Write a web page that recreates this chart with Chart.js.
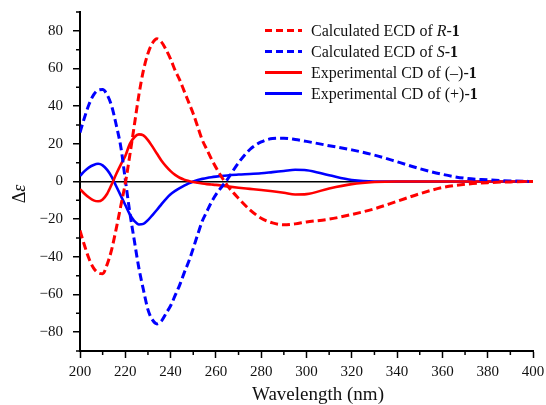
<!DOCTYPE html>
<html>
<head>
<meta charset="utf-8">
<script src="https://cdn.jsdelivr.net/npm/chart.js@4.4.1/dist/chart.umd.min.js"></script>
<style>
    body { margin: 0; background: #fff; }
    #wrap { position: relative; width: 546px; height: 405px; }
    #legend { position: absolute; left: 265px; top: 20px; font-family: 'Liberation Serif', 'Times New Roman', serif; font-size: 16px; color: #111; }
    #legend .row { height: 21px; display: flex; align-items: center; white-space: nowrap; }
    #legend .swatch { width: 37px; height: 3px; margin-right: 9px; }
</style>
</head>
<body>
<div id="wrap">
    <canvas id="cd" width="546" height="405"></canvas>
    <div id="legend"></div>
</div>
<script>
// wavelength (nm)
var wavelength = [200, 202, 204, 206, 208, 210, 212, 214, 216, 218, 220, 222, 224, 226, 228, 230,
    232, 234, 236, 238, 240, 242, 244, 246, 248, 250, 252, 254, 256, 258, 260,
    265, 270, 275, 280, 285, 290, 295, 300, 310, 320, 330, 340, 350, 360, 370, 380, 390, 400];

// calculated ECD of R-1
var calcR = [-26, -34, -41, -46, -48.5, -49, -44, -36, -25, -13, -1, 14, 30, 46, 59, 68,
    73.5, 75.8, 74, 70, 65, 59, 54, 48, 42, 36, 29, 22, 17, 12, 7.5,
    -2, -9, -15, -19.5, -22, -23, -22.5, -21.5, -20, -17.5, -14.5, -10.5, -6.5, -3.2, -1.5, -0.6, -0.2, 0];

// calculated ECD of S-1
var calcS = [26, 34, 41, 46, 48.5, 48.8, 46, 40, 30, 18.5, 1, -16.5, -31.5, -46, -57.5, -68,
    -73.5, -75.6, -74, -70, -66, -60.5, -55, -48.5, -42.5, -35.5, -28, -21, -16, -11, -7,
    1, 10, 17, 21, 22.8, 23, 22.3, 21.3, 19, 16.8, 14, 10.5, 6.8, 3.8, 1.7, 0.9, 0.3, 0];

// experimental CD of (-)-1
var expMinus = [-4, -6.5, -8.5, -10, -10.5, -9.5, -6.5, -1.5, 4, 9, 13.5, 20, 23.5, 25, 24.5, 22,
    18.5, 14.7, 11, 8, 5.5, 3.5, 2, 1, 0.3, -0.3, -0.7, -1.1, -1.4, -1.6, -1.8,
    -2.6, -3.3, -3.9, -4.5, -5.2, -6, -6.9, -6.7, -3.7, -1.4, -0.3, 0, 0, 0, 0, 0, 0, 0];

// experimental CD of (+)-1
var expPlus = [3, 5.5, 7.5, 8.8, 9.4, 8.6, 6.2, 2.5, -2.5, -7.5, -12.5, -17.5, -21, -22.8, -22.5, -20.5,
    -17.8, -15, -12, -9.2, -6.8, -5, -3.5, -2.2, -1, 0, 0.8, 1.4, 1.9, 2.3, 2.6,
    3.2, 3.7, 4, 4.4, 5, 5.6, 6.2, 6, 3.3, 0.8, 0, 0, 0, 0, 0, 0, 0, 0];

var xTicks = [200, 220, 240, 260, 280, 300, 320, 340, 360, 380, 400];
var yTicks = [-80, -60, -40, -20, 0, 20, 40, 60, 80];
var legendNames = [
    'Calculated ECD of <i>R</i>-<b>1</b>',
    'Calculated ECD of <i>S</i>-<b>1</b>',
    'Experimental CD of (\u2013)-<b>1</b>',
    'Experimental CD of (+)-<b>1</b>'
];

var serif = "'Liberation Serif', 'Times New Roman', serif";

function toPoints(ys) {
    return wavelength.map(function (x, i) { return { x: x, y: ys[i] }; });
}

function makeSet(label, values, color, dashed) {
    return {
        label: label,
        data: toPoints(values),
        borderColor: color,
        backgroundColor: color,
        borderWidth: dashed ? 3 : 2.6,
        borderDash: dashed ? [8, 4] : [],
        pointRadius: 0,
        cubicInterpolationMode: 'monotone',
        fill: false
    };
}

// short ticks every 10 between the labelled ones
var minorTicks = {
    id: 'minorTicks',
    afterDraw: function (chart) {
        var ctx = chart.ctx, xs = chart.scales.x, ys = chart.scales.y;
        ctx.save();
        ctx.strokeStyle = '#000';
        ctx.lineWidth = 1.5;
        ctx.beginPath();
        for (var v = 210; v < 400; v += 20) {
            var px = xs.getPixelForValue(v);
            ctx.moveTo(px, ys.bottom);
            ctx.lineTo(px, ys.bottom + 4);
        }
        for (var w = -90; w <= 90; w += 20) {
            var py = ys.getPixelForValue(w);
            ctx.moveTo(xs.left, py);
            ctx.lineTo(xs.left - 4, py);
        }
        ctx.stroke();
        ctx.restore();
    }
};

// axis titles (mixed italic for epsilon)
var axisTitles = {
    id: 'axisTitles',
    afterDraw: function (chart) {
        var ctx = chart.ctx;
        ctx.save();
        ctx.fillStyle = '#111';
        ctx.textBaseline = 'middle';
        ctx.font = '19px ' + serif;
        ctx.textAlign = 'center';
        ctx.fillText('Wavelength (nm)', 318, 395);

        ctx.translate(20, 194);
        ctx.rotate(-Math.PI / 2);
        ctx.textAlign = 'left';
        ctx.font = '18px ' + serif;
        var w1 = ctx.measureText('\u0394').width;
        ctx.font = 'italic 18px ' + serif;
        var w2 = ctx.measureText('\u03b5').width;
        var start = -(w1 + w2) / 2;
        ctx.font = '18px ' + serif;
        ctx.fillText('\u0394', start, 0);
        ctx.font = 'italic 18px ' + serif;
        ctx.fillText('\u03b5', start + w1, 0);
        ctx.restore();
    }
};

var chart = new Chart(document.getElementById('cd'), {
    type: 'line',
    data: {
        datasets: [
            makeSet('Calculated ECD of R-1', calcR, '#ff0000', true),
            makeSet('Calculated ECD of S-1', calcS, '#0000ff', true),
            makeSet('Experimental CD of (\u2013)-1', expMinus, '#ff0000', false),
            makeSet('Experimental CD of (+)-1', expPlus, '#0000ff', false)
        ]
    },
    options: {
        responsive: false,
        animation: false,
        layout: { padding: { left: 0, right: 13, top: 12, bottom: 0 } },
        plugins: {
            legend: { display: false },
            tooltip: { enabled: false }
        },
        scales: {
            x: {
                type: 'linear',
                min: 200,
                max: 400,
                afterBuildTicks: function (scale) {
                    scale.ticks = xTicks.map(function (v) { return { value: v }; });
                },
                afterFit: function (scale) {
                    scale.height = 54;
                    scale.paddingLeft = 0;
                    scale.paddingRight = 0;
                },
                border: { color: '#000', width: 2 },
                grid: { drawOnChartArea: false, tickLength: 7, tickColor: '#000', tickWidth: 1.5 },
                ticks: {
                    maxRotation: 0,
                    padding: 5,
                    color: '#111',
                    font: { family: serif, size: 15 }
                }
            },
            y: {
                min: -90,
                max: 90,
                afterBuildTicks: function (scale) {
                    scale.ticks = yTicks.map(function (v) { return { value: v }; });
                },
                afterFit: function (scale) {
                    scale.width = 80;
                    scale.paddingTop = 0;
                    scale.paddingBottom = 0;
                },
                border: { color: '#000', width: 2 },
                grid: {
                    color: function (c) { return c.tick && c.tick.value === 0 ? '#000' : 'rgba(0,0,0,0)'; },
                    lineWidth: 1.5,
                    tickLength: 7,
                    tickColor: '#000',
                    tickWidth: 1.5
                },
                ticks: {
                    padding: 10,
                    color: '#111',
                    font: { family: serif, size: 15 },
                    callback: function (v) { return v < 0 ? '\u2212' + Math.abs(v) : String(v); }
                }
            }
        }
    },
    plugins: [minorTicks, axisTitles]
});

// html legend, built from the datasets
var legendBox = document.getElementById('legend');
chart.data.datasets.forEach(function (ds, i) {
    var row = document.createElement('div');
    row.className = 'row';
    var sw = document.createElement('div');
    sw.className = 'swatch';
    if (ds.borderDash.length) {
        sw.style.background = 'repeating-linear-gradient(to right, ' + ds.borderColor + ' 0 7px, transparent 7px 11px)';
    } else {
        sw.style.background = ds.borderColor;
    }
    var txt = document.createElement('span');
    txt.innerHTML = legendNames[i];
    row.appendChild(sw);
    row.appendChild(txt);
    legendBox.appendChild(row);
});
</script>
</body>
</html>
